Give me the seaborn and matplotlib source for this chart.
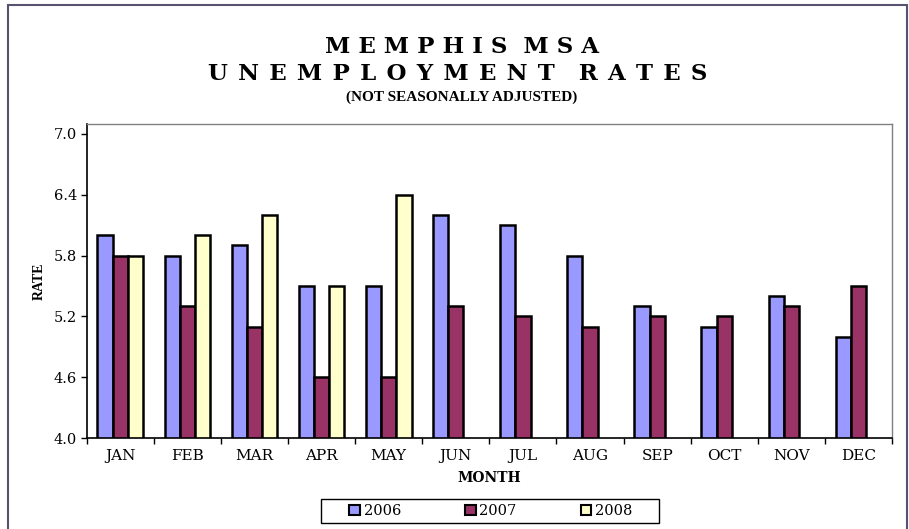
import pandas as pd
import numpy as np
import seaborn as sns
import matplotlib.pyplot as plt
from matplotlib.patches import Rectangle
from matplotlib.ticker import FixedLocator, FormatStrFormatter

# data
months = ['JAN', 'FEB', 'MAR', 'APR', 'MAY', 'JUN', 'JUL', 'AUG', 'SEP', 'OCT', 'NOV', 'DEC']
years = ['2006', '2007', '2008']
rate_2006 = [6.0, 5.8, 5.9, 5.5, 5.5, 6.2, 6.1, 5.8, 5.3, 5.1, 5.4, 5.0]
rate_2007 = [5.8, 5.3, 5.1, 4.6, 4.6, 5.3, 5.2, 5.1, 5.2, 5.2, 5.3, 5.5]
rate_2008 = [5.8, 6.0, 6.2, 5.5, 6.4] + [np.nan] * 7
y_ticks = [4.0, 4.6, 5.2, 5.8, 6.4, 7.0]

df = pd.DataFrame({
    'month': months * 3,
    'rate': rate_2006 + rate_2007 + rate_2008,
    'year': ['2006'] * 12 + ['2007'] * 12 + ['2008'] * 12,
})

sns.set_style('white')
plt.rcParams['font.family'] = ['DejaVu Serif']
for k in ['text.color', 'axes.labelcolor', 'xtick.color', 'ytick.color']:
    plt.rcParams[k] = 'black'

fig = plt.figure(figsize=(9.09, 5.29), dpi=100)
ax = fig.add_axes([0.0954, 0.172, 0.8859, 0.594])

palette = {'2006': '#9999FF', '2007': '#993366', '2008': '#FFFFCC'}
sns.barplot(data=df, x='month', y='rate', hue='year', hue_order=years,
            order=months, palette=palette, width=0.68, edgecolor='black',
            linewidth=1.8, saturation=1, ax=ax)

ax.set_ylim(4.0, 7.1)
ax.set_xlim(-0.5, 11.5)
ax.yaxis.set_major_locator(FixedLocator(y_ticks))
ax.yaxis.set_major_formatter(FormatStrFormatter('%.1f'))
ax.set_xticks(range(12))
ax.set_xticklabels(months)
ax.xaxis.set_minor_locator(FixedLocator(np.arange(-0.5, 12, 1)))
ax.tick_params(axis='x', which='major', length=0, pad=8, labelsize=11)
ax.tick_params(axis='x', which='minor', length=4, width=1, direction='out', bottom=True)
ax.tick_params(axis='y', length=4, width=1, direction='out', left=True, labelsize=10.5, pad=3)

for side in ['left', 'bottom']:
    ax.spines[side].set_color('black')
    ax.spines[side].set_linewidth(1.2)
for side in ['top', 'right']:
    ax.spines[side].set_color('#808080')
    ax.spines[side].set_linewidth(1.0)

ax.set_xlabel('MONTH', fontsize=10, fontweight='bold', labelpad=6)
ax.set_ylabel('RATE', fontsize=10, fontweight='bold', family='Liberation Serif', labelpad=6)

# titles
fig.text(0.508, 0.911, 'M E M P H I S  M S A', ha='center', va='center',
         fontsize=16.5, fontweight='bold')
fig.text(0.504, 0.860, 'U\u200aN\u200aE\u200aM\u200aP\u200aL\u200aO\u200aY\u200aM\u200aE\u200aN\u200aT   R\u200aA\u200aT\u200aE\u200aS'.replace('\u200a', ' \u200a'),
         ha='center', va='center', fontsize=16.5, fontweight='bold')
fig.text(0.508, 0.817, '(NOT SEASONALLY ADJUSTED)', ha='center', va='center',
         fontsize=11, fontweight='bold', family='Liberation Serif')

# legend
handles, labels = ax.get_legend_handles_labels()
ax.get_legend().remove()
leg = fig.legend(handles, labels, loc='center', bbox_to_anchor=(0.540, 0.034), ncol=3,
                 frameon=False, fontsize=10.5, handlelength=0.72, handleheight=0.72,
                 handletextpad=0.25, columnspacing=4.4)
for h in leg.legend_handles:
    h.set_linewidth(1.5)
    h.set_edgecolor('black')
fig.patches.append(Rectangle((321 / 909, 6 / 529), 338 / 909, 24 / 529,
                             transform=fig.transFigure, fill=False,
                             edgecolor='black', linewidth=1.0))

# outer border
fig.patches.append(Rectangle((8 / 909, -0.02), 899 / 909, 1.02 - 5 / 529,
                             transform=fig.transFigure, fill=False,
                             edgecolor='#5a5070', linewidth=1.5))

fig.savefig('out.png', dpi=100)
